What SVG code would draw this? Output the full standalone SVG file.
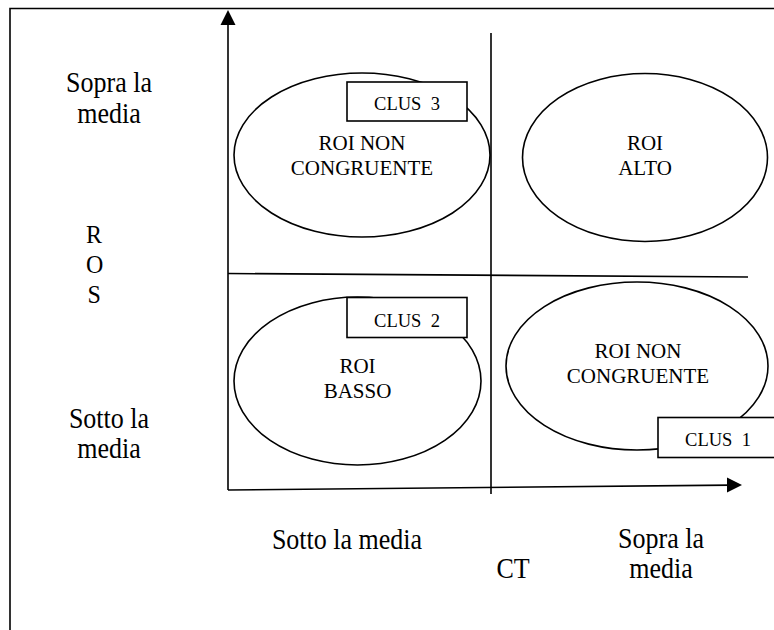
<svg xmlns="http://www.w3.org/2000/svg" width="774" height="630" viewBox="0 0 774 630" font-family="'Liberation Serif', 'Times New Roman', serif">
<style>
.ln{stroke:#000;stroke-width:1.6;fill:none}
.el{stroke:#000;stroke-width:1.6;fill:#fff}
.bx{stroke:#000;stroke-width:1.6;fill:#fff}
.big{font-size:26px}
.roi{font-size:21px;text-anchor:middle}
.clus{font-size:18.5px;text-anchor:middle;white-space:pre}
.c{text-anchor:middle}
</style>
<rect width="774" height="630" fill="#fff"/>
<g id="frame">
<path class="ln" d="M10 630 V8.5 H774"/>
</g>
<g id="connectors">
<path class="ln" d="M228 490 V22"/>
<polygon points="228,10 220.5,25 235.5,25" fill="#000"/>
<path class="ln" d="M228 490 L730 485.1"/>
<polygon points="742,485 727,477.5 727,492.5" fill="#000"/>
<path class="ln" d="M491 33 V494"/>
<path class="ln" d="M228 273.5 L748 277"/>
</g>
<g id="q-top-left">
<ellipse class="el" cx="362" cy="155" rx="128" ry="82"/>
<text class="roi" x="362" y="150">ROI NON</text>
<text class="roi" x="362" y="175">CONGRUENTE</text>
<rect class="bx" x="347" y="82" width="120" height="39"/>
<text class="clus" x="407" y="110">CLUS  3</text>
</g>
<g id="q-top-right">
<ellipse class="el" cx="645" cy="157.5" rx="122.5" ry="84"/>
<text class="roi" x="645" y="150">ROI</text>
<text class="roi" x="645" y="175">ALTO</text>
</g>
<g id="q-bottom-left">
<ellipse class="el" cx="357.5" cy="381" rx="123.5" ry="84"/>
<text class="roi" x="357.5" y="373">ROI</text>
<text class="roi" x="357.5" y="398">BASSO</text>
<rect class="bx" x="347" y="297.5" width="120" height="40"/>
<text class="clus" x="407" y="327">CLUS  2</text>
</g>
<g id="q-bottom-right">
<ellipse class="el" cx="637" cy="366" rx="131" ry="84"/>
<text class="roi" x="638" y="358">ROI NON</text>
<text class="roi" x="638" y="383">CONGRUENTE</text>
<rect class="bx" x="658" y="417.5" width="120" height="40"/>
<text class="clus" x="718" y="446">CLUS  1</text>
</g>
<g id="y-labels">
<text class="big c" transform="translate(109 92) scale(1 1.1)">Sopra la</text>
<text class="big c" transform="translate(109 123) scale(1 1.1)">media</text>
<text font-size="24" transform="translate(86 243) scale(1 1.05)">R</text>
<text font-size="24" transform="translate(86 273) scale(1 1.05)">O</text>
<text font-size="24" transform="translate(87.5 303) scale(1 1.05)">S</text>
<text class="big c" transform="translate(109 428) scale(1 1.1)">Sotto la</text>
<text class="big c" transform="translate(109 458) scale(1 1.1)">media</text>
</g>
<g id="x-labels">
<text class="big c" transform="translate(347 549) scale(1 1.1)">Sotto la media</text>
<text class="big c" transform="translate(513 578) scale(1 1.1)">CT</text>
<text class="big c" transform="translate(661 548) scale(1 1.1)">Sopra la</text>
<text class="big c" transform="translate(661 578) scale(1 1.1)">media</text>
</g>
</svg>
